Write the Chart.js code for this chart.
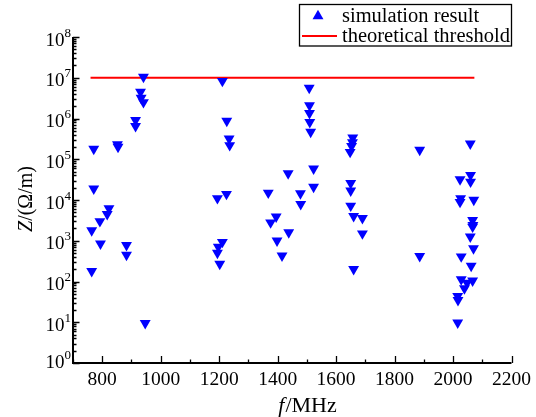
<!DOCTYPE html>
<html><head><meta charset="utf-8">
<script src="https://cdn.jsdelivr.net/npm/chart.js@4/dist/chart.umd.min.js"></script>
<style>html,body{margin:0;padding:0;background:#fff}#wrap{width:536px;height:417px}</style>
</head><body><div id="wrap"><canvas id="c" width="536" height="417"></canvas></div>
<script>
const seriesNames = ['simulation result', 'theoretical threshold'];
const simFreq = [
  771, 852, 854, 771, 823, 817, 792, 764, 794, 883, 883, 764,
  941, 931, 933, 941, 914, 914, 947,
  1211, 1226, 1234, 1236, 1225, 1194, 1211, 1197, 1194, 1202,
  1368, 1436, 1478, 1479, 1395, 1376, 1438, 1398, 1415,
  1508, 1509, 1509, 1510, 1513, 1523, 1523,
  1657, 1656, 1653, 1648, 1650, 1650, 1650, 1660, 1690, 1690, 1660,
  1886, 1886,
  2059, 2060, 2060, 2024, 2026, 2024, 2071, 2067, 2068, 2067, 2059, 2070, 2028, 2062, 2028, 2067, 2048, 2039, 2016, 2017, 2016
];
const simZ = [
  1.8e5, 2.3e5, 2.0e5, 1.9e4, 6.2e3, 4.5e3, 3.0e3, 1.8e3, 850, 780, 450, 180,
  1.05e7, 4.5e6, 3.2e6, 2.5e6, 9.1e5, 6.5e5, 9.5,
  8.3e6, 8.7e5, 3.2e5, 2.2e5, 1.4e4, 1.1e4, 930, 710, 500, 270,
  1.5e4, 4.5e4, 1.45e4, 7.9e3, 3.9e3, 2.8e3, 1.6e3, 1.0e3, 430,
  5.6e6, 2.1e6, 1.35e6, 8.1e5, 4.7e5, 5.9e4, 2.1e4,
  3.4e5, 2.6e5, 2.1e5, 1.5e5, 2.6e4, 1.7e4, 7.2e3, 4.0e3, 3.6e3, 1.5e3, 200,
  1.7e5, 420,
  2.4e5, 4.1e4, 2.8e4, 3.2e4, 1.1e4, 8.9e3, 1.0e4, 3.2e3, 2.4e3, 2.2e3, 1.26e3, 650, 410, 240, 112, 105, 93, 68, 44, 35, 9.8
];
const thresholdFreq = [760, 2073];
const thresholdZ = [1e7, 1e7];
const xTickValues = [800, 1000, 1200, 1400, 1600, 1800, 2000, 2200];
const xMinorTicks = [700, 900, 1100, 1300, 1500, 1700, 1900, 2100];
const yTickExponents = [0, 1, 2, 3, 4, 5, 6, 7, 8];
const xTitle = ['f', '/MHz'];
const yTitle = ['Z', '/(Ω/m)'];

const SERIF = '"Liberation Serif", "Times New Roman", serif';
const BLUE = '#0000ff';
const RED = '#ff0000';

const decor = {
  id: 'decor',
  afterDraw(chart) {
    const ctx = chart.ctx;
    const xs = chart.scales.x, ys = chart.scales.y;
    const ca = chart.chartArea;
    ctx.save();
    // axis lines
    ctx.strokeStyle = '#000';
    ctx.lineWidth = 2;
    ctx.beginPath();
    ctx.moveTo(ca.left, ca.top);
    ctx.lineTo(ca.left, ca.bottom);
    ctx.lineTo(ca.right, ca.bottom);
    ctx.stroke();
    // y ticks (inward)
    ctx.lineWidth = 1.3;
    ctx.beginPath();
    yTickExponents.forEach(e => {
      const y = Math.round(ys.getPixelForValue(Math.pow(10, e))) + 0.5;
      ctx.moveTo(ca.left, y); ctx.lineTo(ca.left + 6.5, y);
      if (e < yTickExponents[yTickExponents.length - 1]) {
        for (let m = 2; m <= 9; m++) {
          const ym = Math.round(ys.getPixelForValue(m * Math.pow(10, e))) + 0.5;
          ctx.moveTo(ca.left, ym); ctx.lineTo(ca.left + 3.5, ym);
        }
      }
    });
    // x ticks (inward)
    xTickValues.forEach(v => {
      const x = Math.round(xs.getPixelForValue(v)) + 0.5;
      ctx.moveTo(x, ca.bottom); ctx.lineTo(x, ca.bottom - 7);
    });
    xMinorTicks.forEach(v => {
      const x = Math.round(xs.getPixelForValue(v)) + 0.5;
      ctx.moveTo(x, ca.bottom); ctx.lineTo(x, ca.bottom - 3.5);
    });
    ctx.stroke();
    // y tick labels 10^n
    ctx.fillStyle = '#000';
    ctx.textBaseline = 'alphabetic';
    ctx.textAlign = 'left';
    const right = 71;
    yTickExponents.forEach((e, i) => {
      let y = ys.getPixelForValue(Math.pow(10, e));
      if (i === 0) y -= 4;
      ctx.font = '13px ' + SERIF;
      const sup = String(e);
      const sw = ctx.measureText(sup).width;
      ctx.font = '19px ' + SERIF;
      const bw = ctx.measureText('10').width;
      ctx.fillText('10', right - sw - bw, y + 8.5);
      ctx.font = '13px ' + SERIF;
      ctx.fillText(sup, right - sw, y - 0.5);
    });
    // x title
    ctx.font = 'italic 22px ' + SERIF;
    const fw = ctx.measureText(xTitle[0]).width;
    ctx.font = '22px ' + SERIF;
    const rw = ctx.measureText(xTitle[1]).width;
    const tx = 307 - (fw + rw) / 2;
    const ty = 412;
    ctx.font = 'italic 22px ' + SERIF;
    ctx.fillText(xTitle[0], tx, ty);
    ctx.font = '22px ' + SERIF;
    ctx.fillText(xTitle[1], tx + fw + 1, ty);
    // y title
    ctx.save();
    ctx.translate(32, 199);
    ctx.rotate(-Math.PI / 2);
    ctx.font = 'italic 20px ' + SERIF;
    const zw = ctx.measureText(yTitle[0]).width;
    ctx.font = '20px ' + SERIF;
    const yw = ctx.measureText(yTitle[1]).width;
    const sx = -(zw + yw) / 2;
    ctx.font = 'italic 20px ' + SERIF;
    ctx.fillText(yTitle[0], sx, 0);
    ctx.font = '20px ' + SERIF;
    ctx.fillText(yTitle[1], sx + zw, 0);
    ctx.restore();
    // legend
    ctx.lineWidth = 1.3;
    ctx.strokeStyle = '#000';
    ctx.strokeRect(299.5, 4.5, 212, 41.5);
    // triangle up
    const r = 6.3, cx = 318, cy = 16;
    ctx.fillStyle = BLUE;
    ctx.beginPath();
    ctx.moveTo(cx, cy - r);
    ctx.lineTo(cx + r * Math.sin(2 * Math.PI / 3), cy - r * Math.cos(2 * Math.PI / 3));
    ctx.lineTo(cx + r * Math.sin(4 * Math.PI / 3), cy - r * Math.cos(4 * Math.PI / 3));
    ctx.closePath();
    ctx.fill();
    ctx.strokeStyle = RED;
    ctx.lineWidth = 2;
    ctx.beginPath();
    ctx.moveTo(302, 36); ctx.lineTo(337, 36);
    ctx.stroke();
    ctx.fillStyle = '#000';
    ctx.font = '20.5px ' + SERIF;
    ctx.fillText(seriesNames[0], 342, 22);
    ctx.fillText(seriesNames[1], 342, 41.5);
    ctx.restore();
  }
};

new Chart(document.getElementById('c'), {
  type: 'scatter',
  data: {
    datasets: [
      {
        label: seriesNames[1],
        type: 'line',
        data: thresholdFreq.map((f, i) => ({x: f, y: thresholdZ[i]})),
        borderColor: RED,
        borderWidth: 2,
        pointRadius: 0,
        fill: false,
        order: 2
      },
      {
        label: seriesNames[0],
        data: simFreq.map((f, i) => ({x: f, y: simZ[i]})),
        pointStyle: 'triangle',
        rotation: 180,
        pointRadius: 6.3,
        pointBackgroundColor: BLUE,
        pointBorderColor: BLUE,
        pointBorderWidth: 0,
        order: 1
      }
    ]
  },
  options: {
    responsive: false,
    animation: false,
    devicePixelRatio: 1,
    layout: {padding: {left: 0, right: 22, top: 37, bottom: 0}},
    plugins: {legend: {display: false}, tooltip: {enabled: false}},
    scales: {
      x: {
        type: 'linear',
        min: 700, max: 2200,
        afterBuildTicks: s => { s.ticks = xTickValues.map(v => ({value: v})); },
        afterFit: s => { s.height = 54; },
        grid: {display: false, drawTicks: false},
        border: {display: false},
        ticks: {
          color: '#000',
          font: {family: SERIF, size: 19.5},
          padding: 5,
          maxRotation: 0,
          autoSkip: false,
          callback: v => String(v)
        }
      },
      y: {
        type: 'logarithmic',
        min: 1, max: 1e8,
        afterFit: s => { s.width = 73; },
        grid: {display: false, drawTicks: false},
        border: {display: false},
        ticks: {display: false}
      }
    }
  },
  plugins: [decor]
});
</script>
</body></html>
